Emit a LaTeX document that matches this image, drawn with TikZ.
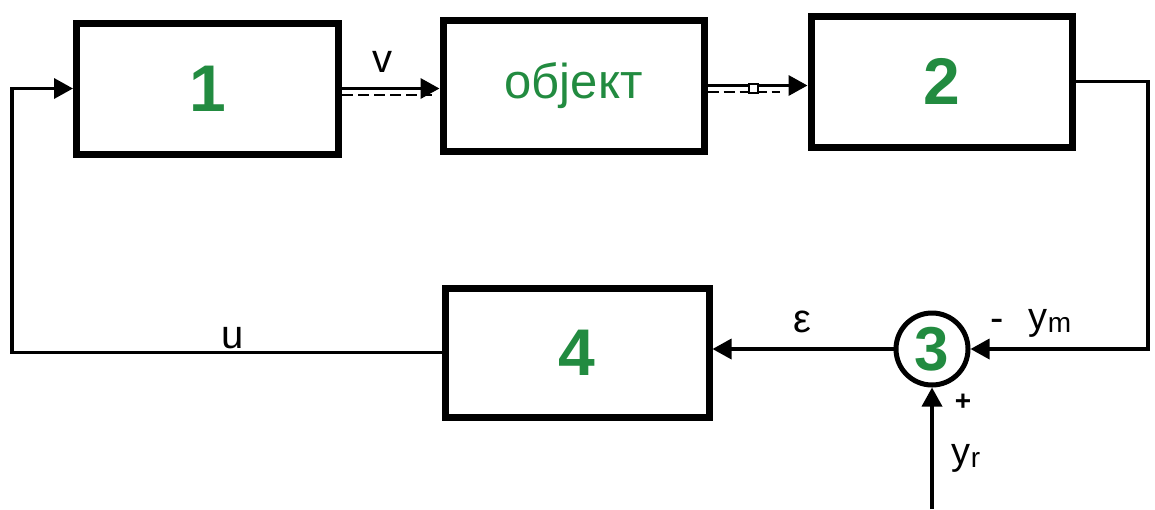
\documentclass[tikz,border=0pt]{standalone}
\usepackage{fontspec}
\setmainfont{Liberation Sans}
\usetikzlibrary{arrows.meta,calc}
\definecolor{dgreen}{RGB}{34,139,64}
\begin{document}
\begin{tikzpicture}[x=1pt,y=-1pt,
  blk/.style={draw, line width=7pt, inner sep=0pt, text=dgreen,
    font=\fontsize{66}{66}\selectfont\bfseries},
  sig/.style={line width=3.5pt},
  arr/.style={sig, -{Triangle[length=19pt,width=20pt]}},
  dsh/.style={line width=2.5pt, dash pattern=on 11pt off 5pt},
  lbl/.style={font=\fontsize{40}{40}\selectfont, inner sep=0pt},
  sumc/.style={draw, circle, line width=5pt, minimum size=72pt, inner sep=0pt,
    text=dgreen, font=\fontsize{62}{62}\selectfont\bfseries},
  sqr/.style={draw, fill=white, line width=2pt, minimum size=9pt, inner sep=0pt}]
\useasboundingbox (0,0) rectangle (1155,509);

% blocks
\node[blk, minimum width=262pt, minimum height=131pt] (b1) at (207.5,88.5) {1};
\node[blk, minimum width=261pt, minimum height=131pt] (obj) at (573.5,85.5)
  {\mdseries\fontsize{49}{49}\selectfont објект};
\node[blk, minimum width=261pt, minimum height=131pt] (b2) at (941.5,81.5) {2};
\node[blk, minimum width=264pt, minimum height=129pt] (b4) at (577,352.5) {4};
\node[sumc] (s3) at (932,349) {3};

% helper coordinates
\coordinate (rc) at (1148,0);
\coordinate (lc) at (12,0);
\coordinate (yr) at (932,509);

% 1 -> object (solid + dashed)
\draw[arr] (b1.east) -- (obj.west |- b1.east);
\draw[dsh] ($(b1.east)+(0,6.5)$) -- ($(obj.west |- b1.east)+(-8,6.5)$);
\node[lbl] (v) at (382,62) {v};

% object -> 2 (solid + dashed + small square)
\draw[arr] (obj.east) -- (obj.east -| b2.west);
\draw[dsh] ($(obj.east)+(0,6.5)$) -- ($(obj.east -| b2.west)+(-28,6.5)$);
\node[sqr] (sq) at ($(obj.east)+(46,2.5)$) {};

% 2 -> summing junction
\draw[arr] (b2.east) -- (b2.east -| rc) |- (s3.east);
\node[lbl] (minus) at (997,325) {-};
\node[lbl, font=\fontsize{38}{38}\selectfont] (ym) at (1050,323)
  {y\raisebox{-3pt}{\fontsize{28}{28}\selectfont m}};

% reference input
\draw[arr] (yr) -- (s3.south);
\node[lbl, font=\fontsize{28}{28}\selectfont\bfseries] (plus) at (963,402) {+};
\node[lbl, font=\fontsize{38}{38}\selectfont] (yrl) at (966,458)
  {y\raisebox{-3pt}{\fontsize{28}{28}\selectfont r}};

% junction -> 4
\draw[arr] (s3.west) -- (s3.west -| b4.east);
\node[lbl] (eps) at (802,322) {ε};

% 4 -> 1 feedback
\draw[arr] (b4.west) -- (b4.west -| lc) |- (b1.west);
\node[lbl] (u) at (233,338) {u};
\end{tikzpicture}
\end{document}
